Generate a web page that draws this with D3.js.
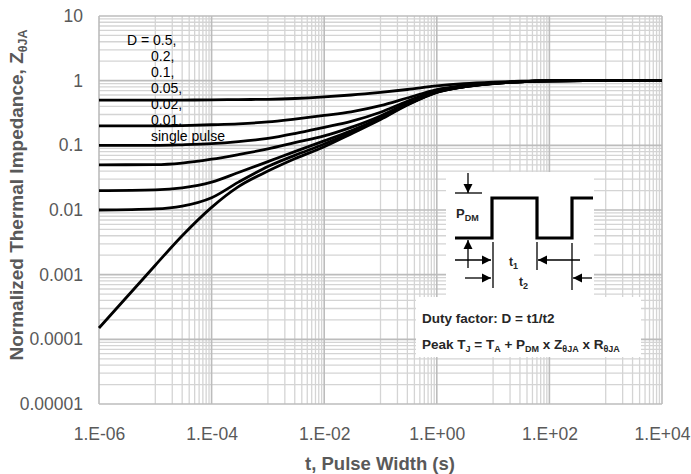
<!DOCTYPE html>
<html>
<head>
<meta charset="utf-8">
<script src="https://cdn.jsdelivr.net/npm/d3@7"></script>
<style>
html,body{margin:0;padding:0;background:#fff;}
svg{display:block;font-family:"Liberation Sans",Arial,sans-serif;}
</style>
</head>
<body>
<svg id="c" width="691" height="474"></svg>
<script>
// ---- data ----
const times = [1e-6, 1e-5, 3e-5, 1e-4, 3e-4, 1e-3, 3e-3, 1e-2, 3e-2, 0.1, 0.3, 1, 3, 10, 30, 100, 1000, 1e4];
const d050 = [0.5, 0.5, 0.501, 0.505, 0.51, 0.515, 0.53, 0.56, 0.6, 0.66, 0.73, 0.83, 0.9, 0.95, 0.98, 0.995, 1, 1];
const d020 = [0.2, 0.2, 0.202, 0.208, 0.215, 0.23, 0.255, 0.29, 0.33, 0.41, 0.54, 0.73, 0.84, 0.92, 0.965, 0.992, 1, 1];
const d010 = [0.1, 0.1, 0.102, 0.106, 0.114, 0.128, 0.152, 0.19, 0.235, 0.325, 0.48, 0.695, 0.82, 0.91, 0.962, 0.991, 1, 1];
const d005 = [0.05, 0.0502, 0.053, 0.061, 0.072, 0.088, 0.11, 0.14, 0.19, 0.285, 0.45, 0.677, 0.81, 0.905, 0.961, 0.99, 1, 1];
const d002 = [0.02, 0.0205, 0.022, 0.027, 0.038, 0.056, 0.08, 0.117, 0.168, 0.265, 0.43, 0.667, 0.805, 0.902, 0.96, 0.99, 1, 1];
const d001 = [0.01, 0.0104, 0.0115, 0.0155, 0.027, 0.047, 0.07, 0.105, 0.158, 0.258, 0.427, 0.663, 0.802, 0.901, 0.96, 0.99, 1, 1];
const single = [1.5e-4, 1.4e-3, 4.0e-3, 0.011, 0.023, 0.04, 0.062, 0.095, 0.15, 0.25, 0.42, 0.66, 0.8, 0.9, 0.96, 0.99, 1, 1];
const seriesList = [d050, d020, d010, d005, d002, d001, single];

const xTickValues = [1e-6, 1e-4, 1e-2, 1e0, 1e2, 1e4];
const xTickLabels = ["1.E-06", "1.E-04", "1.E-02", "1.E+00", "1.E+02", "1.E+04"];
const yTickValues = [1e-5, 1e-4, 1e-3, 1e-2, 1e-1, 1, 10];
const yTickLabels = ["0.00001", "0.0001", "0.001", "0.01", "0.1", "1", "10"];
const legendLines = ["D = 0.5,", "0.2,", "0.1,", "0.05,", "0.02,", "0.01,", "single pulse"];

// ---- chart ----
const svg = d3.select("#c");
const L = 99, R = 662, T = 16, B = 404;
const x = d3.scaleLog().domain([1e-6, 1e4]).range([L, R]);
const y = d3.scaleLog().domain([1e-5, 10]).range([B, T]);

// gridlines
const g = svg.append("g");
const xMinor = [];
for (let e = -5; e <= 3; e += 2) for (let k = 2; k <= 9; k++) xMinor.push(k * Math.pow(10, e));
const xMid = [];
for (let e = -5; e <= 3; e += 2) xMid.push(Math.pow(10, e));
const yMinor = [];
for (let e = -5; e <= 0; e++) for (let k = 2; k <= 9; k++) yMinor.push(k * Math.pow(10, e));

g.selectAll("line.xm").data(xMinor.concat(xMid)).enter().append("line")
  .attr("x1", d => x(d)).attr("x2", d => x(d)).attr("y1", T).attr("y2", B)
  .attr("stroke", "#d4d4d4").attr("stroke-width", 1.3);
g.selectAll("line.ym").data(yMinor).enter().append("line")
  .attr("y1", d => y(d)).attr("y2", d => y(d)).attr("x1", L).attr("x2", R)
  .attr("stroke", "#d4d4d4").attr("stroke-width", 1.3);
g.selectAll("line.xM").data(xTickValues).enter().append("line")
  .attr("x1", d => x(d)).attr("x2", d => x(d)).attr("y1", T).attr("y2", B)
  .attr("stroke", "#bcbcbc").attr("stroke-width", 1.6);
g.selectAll("line.yM").data(yTickValues).enter().append("line")
  .attr("y1", d => y(d)).attr("y2", d => y(d)).attr("x1", L).attr("x2", R)
  .attr("stroke", "#bcbcbc").attr("stroke-width", 1.6);

// axes (labels only, Excel style)
const xAxis = d3.axisBottom(x).tickValues(xTickValues).tickSize(0).tickPadding(0)
  .tickFormat((d, i) => xTickLabels[i]);
const xg = svg.append("g").attr("transform", `translate(0,${B + 24})`).call(xAxis);
xg.select(".domain").remove();
xg.selectAll("text").attr("font-size", 17.5).attr("fill", "#595959")
  .attr("font-family", "Liberation Sans, Arial, sans-serif");

const yAxis = d3.axisLeft(y).tickValues(yTickValues).tickSize(0).tickPadding(0)
  .tickFormat((d, i) => yTickLabels[i]);
const yg = svg.append("g").attr("transform", `translate(${L - 16},0)`).call(yAxis);
yg.select(".domain").remove();
yg.selectAll("text").attr("font-size", 17.5).attr("fill", "#595959")
  .attr("font-family", "Liberation Sans, Arial, sans-serif");

// axis titles
svg.append("text").attr("x", 380).attr("y", 470).attr("text-anchor", "middle")
  .attr("font-size", 18.5).attr("font-weight", "bold").attr("fill", "#595959")
  .text("t, Pulse Width (s)");
const yt = svg.append("text").attr("transform", "translate(23,195) rotate(-90)")
  .attr("text-anchor", "middle").attr("font-size", 19).attr("font-weight", "bold").attr("fill", "#595959");
yt.append("tspan").text("Normalized Thermal Impedance, Z");
yt.append("tspan").attr("font-size", 12.5).attr("dy", 4).text("θJA");

// legend text
const lg = svg.append("g");
lg.selectAll("text").data(legendLines).enter().append("text")
  .attr("x", (d, i) => i === 0 ? 127 : 151)
  .attr("y", (d, i) => 45 + i * 16)
  .attr("font-size", 14).attr("fill", "#000").text(d => d);

// curves
const line = d3.line().x((d, i) => x(times[i])).y(d => y(d)).curve(d3.curveMonotoneX);
svg.append("g").selectAll("path").data(seriesList).enter().append("path")
  .attr("d", d => line(d)).attr("fill", "none").attr("stroke", "#000")
  .attr("stroke-width", 2.8).attr("stroke-linejoin", "round");

// inset boxes
svg.append("rect").attr("x", 446).attr("y", 172).attr("width", 148).attr("height", 126).attr("fill", "#fff");
svg.append("rect").attr("x", 416).attr("y", 297).attr("width", 225).attr("height", 60).attr("fill", "#fff");

const ins = svg.append("g").attr("stroke", "#000").attr("fill", "none");
ins.append("path").attr("d", "M455,238 H492 V198 H537 V238 H572 V198 H593").attr("stroke-width", 3.2);
const defs = svg.append("defs");
defs.append("marker").attr("id", "ah").attr("viewBox", "0 0 10 10").attr("refX", 10).attr("refY", 5)
  .attr("markerWidth", 7).attr("markerHeight", 7).attr("orient", "auto-start-reverse")
  .append("path").attr("d", "M0,0 L10,5 L0,10 z").attr("fill", "#000").attr("stroke", "none");
const arrows = [
  [468, 173, 468, 193], [468, 268, 468, 240],
  [455, 260, 491, 260], [580, 260, 538, 260],
  [465, 278, 491, 278], [592, 278, 573, 278]
];
ins.selectAll("line.a").data(arrows).enter().append("line")
  .attr("x1", d => d[0]).attr("y1", d => d[1]).attr("x2", d => d[2]).attr("y2", d => d[3])
  .attr("stroke-width", 1.3).attr("marker-end", "url(#ah)");
const ext = [[455, 193, 482, 193], [493, 242, 493, 288], [537, 242, 537, 270], [572, 243, 572, 290]];
ins.selectAll("line.e").data(ext).enter().append("line")
  .attr("x1", d => d[0]).attr("y1", d => d[1]).attr("x2", d => d[2]).attr("y2", d => d[3])
  .attr("stroke-width", 1.3);

const tx = svg.append("g").attr("font-weight", "bold").attr("fill", "#262626");
const p = tx.append("text").attr("x", 456).attr("y", 218).attr("font-size", 13);
p.append("tspan").text("P"); p.append("tspan").attr("font-size", 9).attr("dy", 3).text("DM");
const t1 = tx.append("text").attr("x", 509).attr("y", 266).attr("font-size", 12);
t1.append("tspan").text("t"); t1.append("tspan").attr("font-size", 9).attr("dy", 3).text("1");
const t2 = tx.append("text").attr("x", 519).attr("y", 286).attr("font-size", 12);
t2.append("tspan").text("t"); t2.append("tspan").attr("font-size", 9).attr("dy", 3).text("2");

tx.append("text").attr("x", 422).attr("y", 323).attr("font-size", 13.5).text("Duty factor: D = t1/t2");
const pk = tx.append("text").attr("x", 422).attr("y", 349).attr("font-size", 13.5);
const parts = [["Peak T", 0], ["J", 1], [" = T", 0], ["A", 1], [" + P", 0], ["DM", 1], [" x Z", 0], ["θJA", 1], [" x R", 0], ["θJA", 1]];
let sub = false;
parts.forEach(([s, isSub]) => {
  const ts = pk.append("tspan").text(s);
  if (isSub) { ts.attr("font-size", 9).attr("dy", sub ? 0 : 3); sub = true; }
  else { ts.attr("dy", sub ? -3 : 0); sub = false; }
});
</script>
</body>
</html>
